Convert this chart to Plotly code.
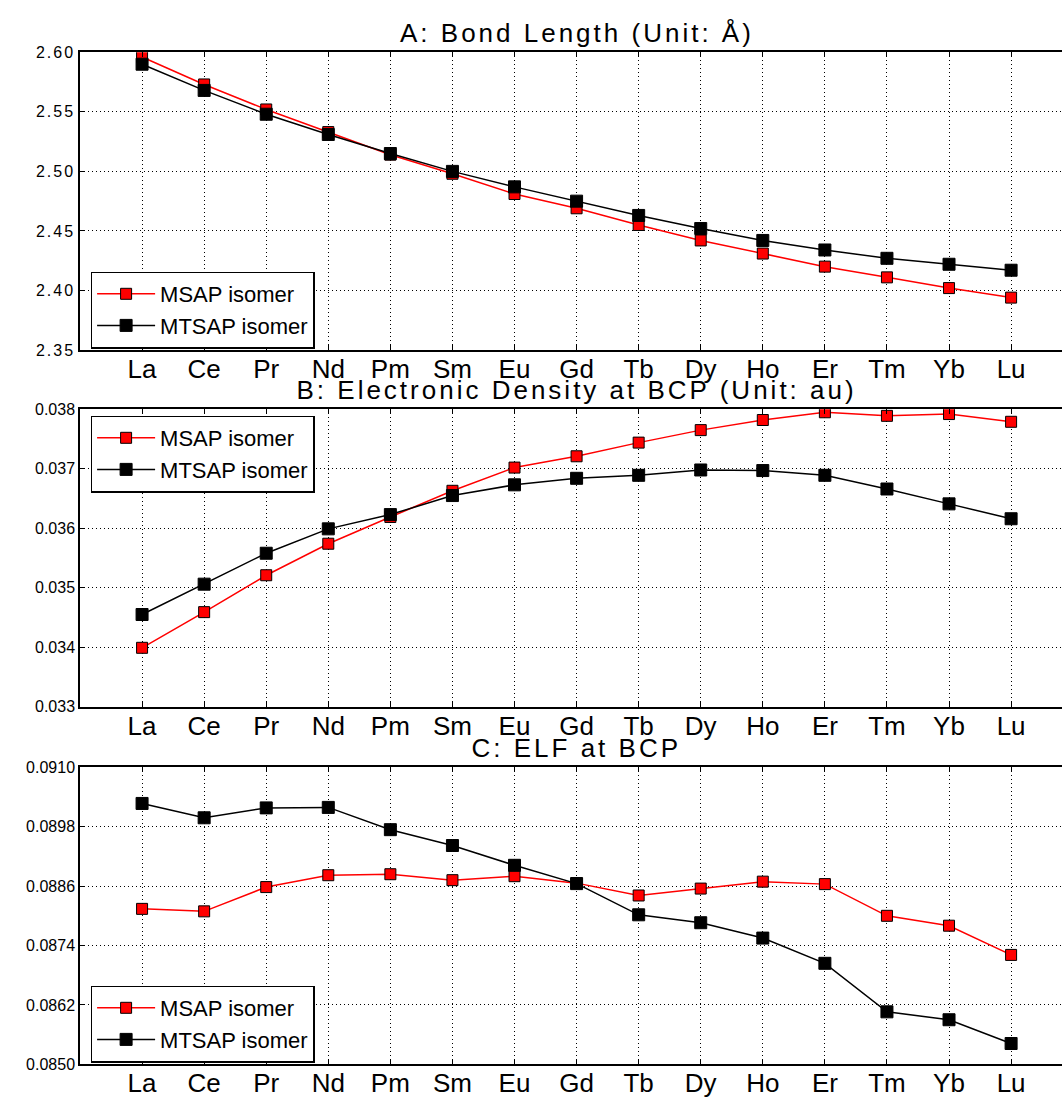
import plotly.graph_objects as go

elements = ["La", "Ce", "Pr", "Nd", "Pm", "Sm", "Eu", "Gd", "Tb", "Dy", "Ho", "Er", "Tm", "Yb", "Lu"]

bond_msap = [2.596, 2.573, 2.552, 2.533, 2.514, 2.498, 2.481, 2.469, 2.455, 2.442, 2.431, 2.420, 2.411, 2.402, 2.394]
bond_mtsap = [2.590, 2.568, 2.548, 2.531, 2.515, 2.500, 2.487, 2.475, 2.463, 2.452, 2.442, 2.434, 2.427, 2.422, 2.417]

dens_msap = [0.03399, 0.03459, 0.03521, 0.03574, 0.03619, 0.03663, 0.03702, 0.03721, 0.03744, 0.03765, 0.03782, 0.03795, 0.03789, 0.03792, 0.03779]
dens_mtsap = [0.03455, 0.03506, 0.03558, 0.03599, 0.03623, 0.03655, 0.03673, 0.03684, 0.03689, 0.03698, 0.03697, 0.03689, 0.03666, 0.03641, 0.03616]

elf_msap = [0.08814, 0.08809, 0.08858, 0.08882, 0.08884, 0.08872, 0.08880, 0.08866, 0.08841, 0.08855, 0.08869, 0.08864, 0.08800, 0.08780, 0.08721]
elf_mtsap = [0.09027, 0.08998, 0.09018, 0.09019, 0.08974, 0.08942, 0.08902, 0.08865, 0.08802, 0.08786, 0.08755, 0.08704, 0.08606, 0.08590, 0.08542]

series_names = ["MSAP isomer", "MTSAP isomer"]
titles = ["A: Bond Length (Unit: Å)", "B: Electronic Density at BCP (Unit: au)", "C: ELF at BCP"]
y_ranges = [[2.35, 2.60], [0.033, 0.038], [0.0850, 0.0910]]
y_dticks = [0.05, 0.001, 0.0012]
y_formats = [".2f", ".3f", ".4f"]

W, H = 1062, 1097
FONT = "Liberation Sans, Arial, Helvetica, sans-serif"
# panel pixel extents (top, bottom)
panels_px = [(52.3, 350.0), (409.3, 706.7), (767.3, 1064.3)]
legend_tops_px = [271.5, 415.5, 985.5]

data_pairs = [(bond_msap, bond_mtsap), (dens_msap, dens_mtsap), (elf_msap, elf_mtsap)]

fig = go.Figure()
legend_ids = ["legend", "legend2", "legend3"]
for i, (msap, mtsap) in enumerate(data_pairs):
    xa = "x" if i == 0 else f"x{i+1}"
    ya = "y" if i == 0 else f"y{i+1}"
    fig.add_trace(go.Scatter(
        x=elements, y=msap, name=series_names[0], xaxis=xa, yaxis=ya,
        mode="lines+markers", legend=legend_ids[i],
        line=dict(color="#ff0000", width=1.5),
        marker=dict(symbol="square", size=11, color="#ff0000", line=dict(color="black", width=1)),
    ))
    fig.add_trace(go.Scatter(
        x=elements, y=mtsap, name=series_names[1], xaxis=xa, yaxis=ya,
        mode="lines+markers", legend=legend_ids[i],
        line=dict(color="black", width=1.5),
        marker=dict(symbol="square", size=12, color="black", line=dict(color="black", width=1)),
    ))

layout = dict(
    width=W, height=H,
    margin=dict(l=80, r=0, t=0, b=0, autoexpand=False),
    paper_bgcolor="white", plot_bgcolor="white",
    font=dict(family=FONT, color="black"),
    showlegend=True,
    annotations=[],
)

for i in range(3):
    top, bot = panels_px[i]
    dom = [1 - bot / H, 1 - top / H]
    xk = "xaxis" if i == 0 else f"xaxis{i+1}"
    yk = "yaxis" if i == 0 else f"yaxis{i+1}"
    ya = "y" if i == 0 else f"y{i+1}"
    xa = "x" if i == 0 else f"x{i+1}"
    layout[xk] = dict(
        domain=[0, 1], anchor=ya, type="category",
        categoryorder="array", categoryarray=elements,
        range=[-1, 14.82], automargin=False,
        showgrid=True, gridcolor="black", gridwidth=1, griddash="1px,3px",
        showline=True, linecolor="black", linewidth=1.5, mirror="ticks",
        ticks="inside", ticklen=5, tickcolor="black", tickwidth=1,
        tickfont=dict(size=26, family=FONT, color="black"),
        ticklabelstandoff=-5,
        zeroline=False, fixedrange=True,
    )
    layout[yk] = dict(
        domain=dom, anchor=xa, automargin=False,
        range=y_ranges[i], tick0=y_ranges[i][0], dtick=y_dticks[i],
        tickformat=y_formats[i],
        showgrid=True, gridcolor="black", gridwidth=1, griddash="1px,3px",
        showline=True, linecolor="black", linewidth=1.5, mirror=False,
        ticks="inside", ticklen=5, tickcolor="black", tickwidth=1,
        tickfont=dict(size=16, family=FONT, color="black"),
        zeroline=False, fixedrange=True,
    )
    layout["annotations"].append(dict(
        text=titles[i], xref="x" if i == 0 else f"x{i+1}", x=7,
        yref="paper", y=dom[1], yanchor="bottom", xanchor="center",
        showarrow=False, font=dict(size=26, family=FONT, color="black"),
        yshift=2,
    ))
    layout[legend_ids[i]] = dict(
        x=(90.6 - 80) / 982, xanchor="left", xref="paper",
        y=1 - legend_tops_px[i] / H, yanchor="top", yref="paper",
        bordercolor="black", borderwidth=1.5, bgcolor="white",
        font=dict(size=22, family=FONT, color="black"),
        itemwidth=58, tracegroupgap=0,
    )

fig.update_layout(**layout)

post = """
var gd = document.getElementById('{plot_id}');
gd.querySelectorAll('text.annotation-text').forEach(function(t){ t.style.letterSpacing = '3px'; });
gd.querySelectorAll('g.ytick text').forEach(function(t){ t.style.letterSpacing = '2px'; });
"""
fig.write_html("out.html", post_script=post, config={"displayModeBar": False})
